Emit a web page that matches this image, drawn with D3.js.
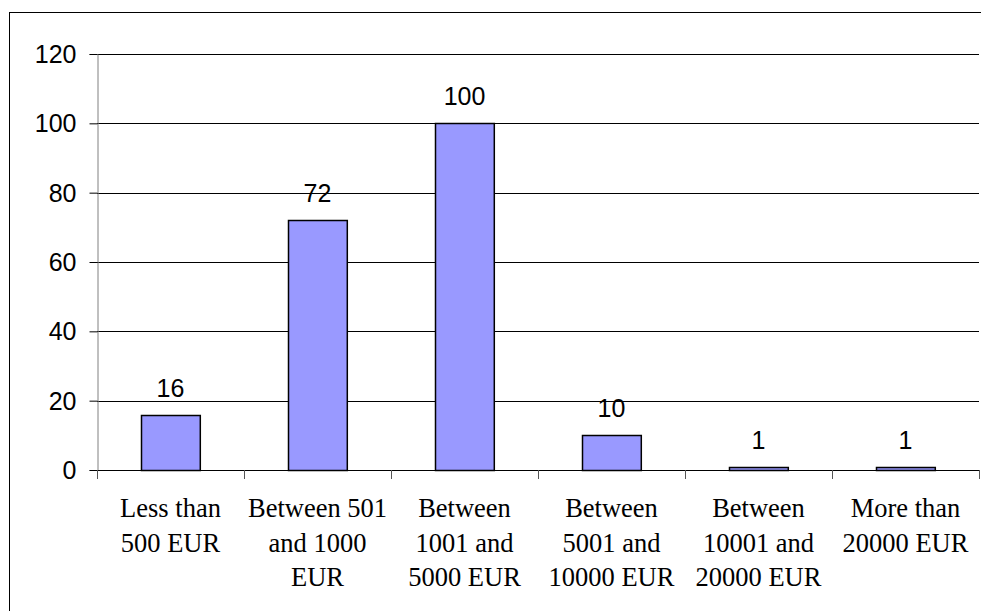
<!DOCTYPE html>
<html><head><meta charset="utf-8">
<script src="https://cdn.jsdelivr.net/npm/d3@7"></script>
<style>body{margin:0;background:#fff;}svg{display:block;}</style>
</head><body>
<svg id="chart" width="981" height="611"></svg>
<script>
const categories = [
  ["Less than", "500 EUR"],
  ["Between 501", "and 1000", "EUR"],
  ["Between", "1001 and", "5000 EUR"],
  ["Between", "5001 and", "10000 EUR"],
  ["Between", "10001 and", "20000 EUR"],
  ["More than", "20000 EUR"]
];
const values = [16, 72, 100, 10, 1, 1];
const yTicks = [0, 20, 40, 60, 80, 100, 120];

const svg = d3.select("#chart");
const L = 97, R = 979, T = 54, B = 470;

svg.append("rect").attr("x", 9.5).attr("y", 12.5).attr("width", 1000).attr("height", 700)
  .attr("fill", "none").attr("stroke", "#000").attr("stroke-width", 1);

const idx = d3.range(categories.length);
const x = d3.scaleBand().domain(idx).range([L, R]).paddingInner(0.6).paddingOuter(0.3);
const xEdge = d3.scaleLinear().domain([0, categories.length]).range([L, R]);
const y = d3.scaleLinear().domain([0, 120]).range([B, T]);

// gridlines
svg.append("g").selectAll("line").data(yTicks.filter(d => d > 0)).join("line")
  .attr("x1", L).attr("x2", R)
  .attr("y1", d => Math.round(y(d)) + 0.5).attr("y2", d => Math.round(y(d)) + 0.5)
  .attr("stroke", "#000").attr("stroke-width", 1);

// y axis
const yAxis = d3.axisLeft(y).tickValues(yTicks).tickSize(8).tickPadding(13);
const gy = svg.append("g").attr("transform", `translate(${L + 0.5},0)`).call(yAxis);
gy.select(".domain").attr("stroke", "#808080");
gy.selectAll(".tick line").attr("stroke", "#000");
gy.selectAll(".tick text").attr("font-family", "Liberation Sans, Arial, sans-serif")
  .attr("font-size", 25).attr("fill", "#000").attr("dy", "0.34em");

// bars
svg.append("g").selectAll("rect").data(values).join("rect")
  .attr("x", (d, i) => Math.round(x(i)) + 0.5)
  .attr("y", d => Math.round(y(d)) + 0.5)
  .attr("width", x.bandwidth())
  .attr("height", d => Math.max(0, Math.round(y(0)) - Math.round(y(d))))
  .attr("fill", "#9999FF").attr("stroke", "#000").attr("stroke-width", 1.5);

// x axis line + ticks
svg.append("line").attr("x1", L).attr("x2", R).attr("y1", B + 0.5).attr("y2", B + 0.5)
  .attr("stroke", "#000").attr("stroke-width", 1);
svg.append("g").selectAll("line").data(d3.range(categories.length + 1)).join("line")
  .attr("x1", d => Math.round(xEdge(d)) + 0.5).attr("x2", d => Math.round(xEdge(d)) + 0.5)
  .attr("y1", B).attr("y2", B + 9).attr("stroke", "#555").attr("stroke-width", 1);

// value labels
svg.append("g").selectAll("text").data(values).join("text")
  .attr("x", (d, i) => x(i) + x.bandwidth() / 2)
  .attr("y", d => y(d) - 18)
  .attr("text-anchor", "middle")
  .attr("font-family", "Liberation Sans, Arial, sans-serif").attr("font-size", 25)
  .text(d => d);

// category labels
const cl = svg.append("g").selectAll("text").data(categories).join("text")
  .attr("text-anchor", "middle")
  .attr("font-family", "Liberation Serif, Times New Roman, serif").attr("font-size", 26.5);
cl.each(function(lines, i) {
  const t = d3.select(this);
  lines.forEach((s, j) => {
    t.append("tspan").attr("x", x(i) + x.bandwidth() / 2).attr("y", 517 + j * 34.5).text(s);
  });
});
</script>
</body></html>
